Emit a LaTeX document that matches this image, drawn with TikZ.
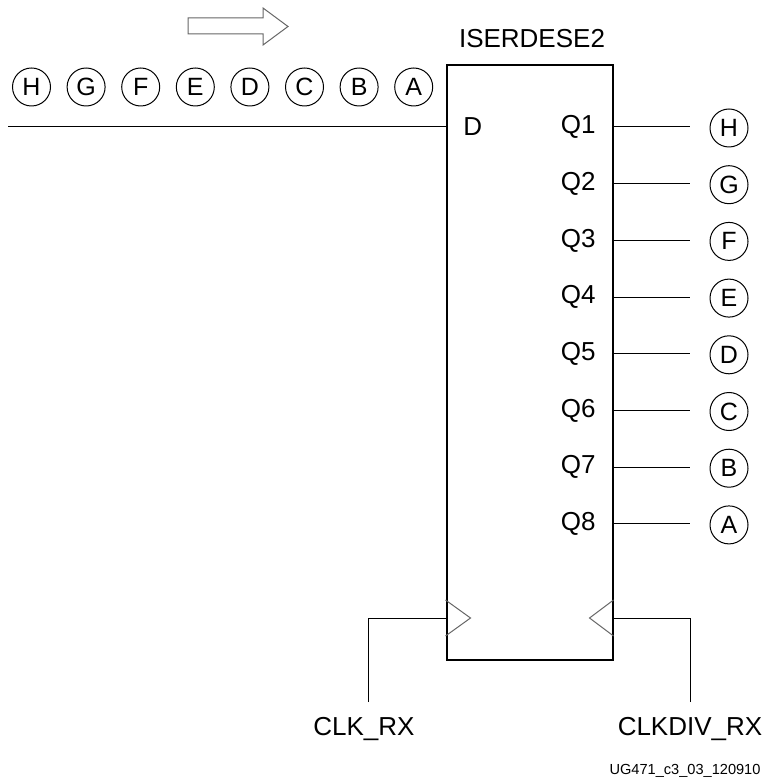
\documentclass[tikz,border=0pt]{standalone}
\usepackage{fontspec}
\setmainfont{Liberation Sans}
\usetikzlibrary{positioning, calc}
\tikzstyle{pin} = [font=\fontsize{13}{15}\selectfont, inner sep=0pt]
\tikzstyle{bit} = [circle, draw, line width=0.5pt, minimum size=19pt, inner sep=0pt, font=\fontsize{12.5}{15}\selectfont]
\tikzstyle{wire} = [line width=0.5pt]
\tikzstyle{clkmark} = [line width=0.5pt, draw=black!60]

\begin{document}
\begin{tikzpicture}[x=0.5pt, y=-0.5pt]
    \useasboundingbox (0,0) rectangle (767,780);
    % the deserializer block
    \node (box) [draw, line width=1pt, minimum width=83pt, minimum height=297.5pt, inner sep=0pt] at (529.5,362.5) {};
    \node (title) [pin, anchor=base] at (532,48) {ISERDESE2};
    \node (d) [pin, anchor=west] at (463,127) {D};
    % serial input
    \coordinate (din) at (8,127);
    \draw [wire] (din) -- (box.west |- din);
    \foreach \l [count=\i from 0] in {H,G,F,E,D,C,B,A}
        \node (in\l) [bit] at ({31.5+54.6*\i},87) {\l};
    \draw [clkmark] (188,18) -- (263,18) -- (263,8) -- (288,26.5) -- (263,45) -- (263,34) -- (188,34) -- cycle;
    % parallel outputs
    \foreach \l [count=\i] in {H,G,F,E,D,C,B,A} {
        \node (q\i) [pin, anchor=east] at (596,{127+56.7*(\i-1)}) {Q\i};
        \coordinate (e\i) at (690,{127+56.7*(\i-1)});
        \node (o\i) [bit] at (729,{128+56.7*(\i-1)}) {\l};
        \draw [wire] (box.east |- e\i) -- (e\i);
    }
    % clocks
    \coordinate (cky) at (0,618);
    \coordinate (ckl) at (box.west |- cky);
    \coordinate (ckr) at (box.east |- cky);
    \draw [clkmark] ($(ckl)+(0,-18)$) -- ($(ckl)+(25,0)$) -- ($(ckl)+(0,18)$);
    \draw [clkmark] ($(ckr)+(0,-18)$) -- ($(ckr)+(-24,0)$) -- ($(ckr)+(0,18)$);
    \coordinate (clkend) at (368,702);
    \coordinate (divend) at (690,702);
    \draw [wire] (clkend) |- (ckl);
    \draw [wire] (divend) |- (ckr);
    \node (clkrx) [pin, anchor=base] at (364,735) {CLK\_RX};
    \node (clkdivrx) [pin, anchor=base] at (690,735) {CLKDIV\_RX};
    \node (fig) [anchor=base, inner sep=0pt, font=\fontsize{7.3}{9}\selectfont] at (685,774) {UG471\_c3\_03\_120910};
\end{tikzpicture}
\end{document}
